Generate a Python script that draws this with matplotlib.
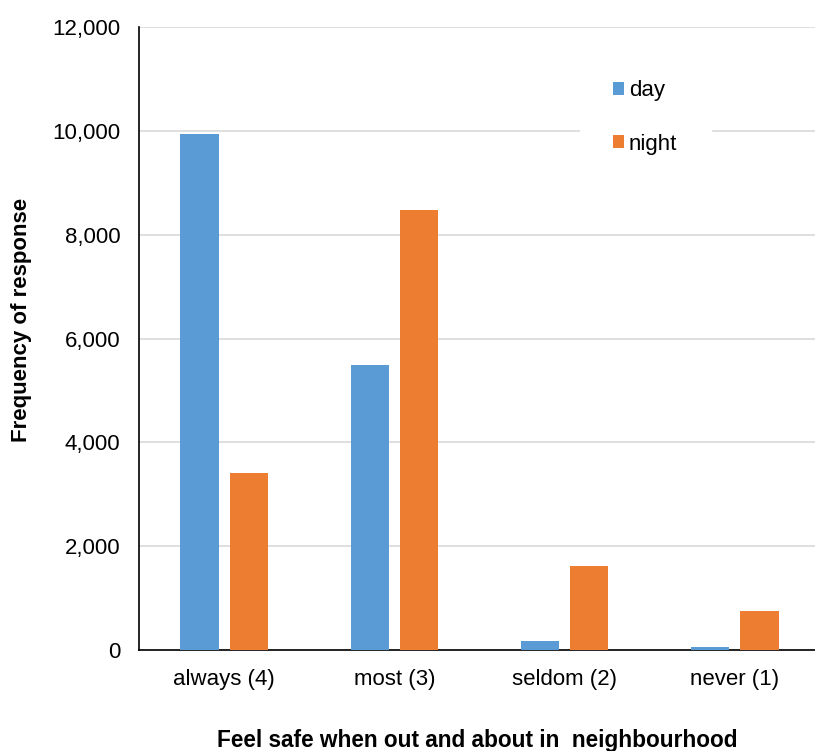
import matplotlib
matplotlib.use("Agg")
import matplotlib.pyplot as plt
import numpy as np
from matplotlib.ticker import FuncFormatter

categories = ["always (4)", "most (3)", "seldom (2)", "never (1)"]
day = [9930, 5490, 170, 50]
night = [3410, 8480, 1620, 750]
series_names = ["day", "night"]
colors = ["#5B9BD5", "#ED7D31"]

plt.rcParams["font.family"] = ["Liberation Sans", "DejaVu Sans"]

W, H = 815, 751
fig = plt.figure(figsize=(W / 100, H / 100), dpi=100)
ax = fig.add_axes([139 / W, (H - 650) / H, (820 - 139) / W, (650 - 27) / H])

x = np.arange(len(categories))
bw = 0.225
off = 0.145
ax.bar(x - off, day, bw, color=colors[0], label=series_names[0], zorder=3)
ax.bar(x + off, night, bw, color=colors[1], label=series_names[1], zorder=3)

ax.set_xlim(-0.5, 3.5)
ax.set_ylim(0, 12000)
ax.set_yticks(np.arange(0, 12001, 2000))
ax.yaxis.set_major_formatter(FuncFormatter(lambda v, p: f"{int(v):,}"))
ax.set_xticks(x)
ax.set_xticklabels(categories)
ax.tick_params(axis="both", length=0, labelsize=16, colors="#000000")
ax.tick_params(axis="y", pad=13.5)
ax.tick_params(axis="x", pad=14)
ax.grid(axis="y", color="#D9D9D9", linewidth=1.2, zorder=0)
for s in ["top", "right"]:
    ax.spines[s].set_visible(False)
ax.spines["left"].set_color("#000000")
ax.spines["bottom"].set_color("#000000")
ax.spines["left"].set_linewidth(1.2)
ax.spines["bottom"].set_linewidth(1.2)

fig.text(22 / W, 1 - 320 / H, "Frequency of response", rotation=90,
         ha="center", va="center", fontsize=16, fontweight="bold")
fig.text(477 / W, 1 - 741 / H, "Feel safe when out and about in  neighbourhood",
         ha="center", va="center", fontsize=16.3, fontweight="bold")

leg = fig.legend(loc="upper left", bbox_to_anchor=(580 / W, 1 - 47 / H),
                 frameon=True, fontsize=16, handlelength=0.5, handleheight=0.5,
                 handletextpad=0.2, labelspacing=1.45, borderpad=1.5,
                 borderaxespad=0)
leg.get_frame().set_facecolor("white")
leg.get_frame().set_edgecolor("white")
leg.get_frame().set_alpha(1)

fig.savefig("out.png", dpi=100)
